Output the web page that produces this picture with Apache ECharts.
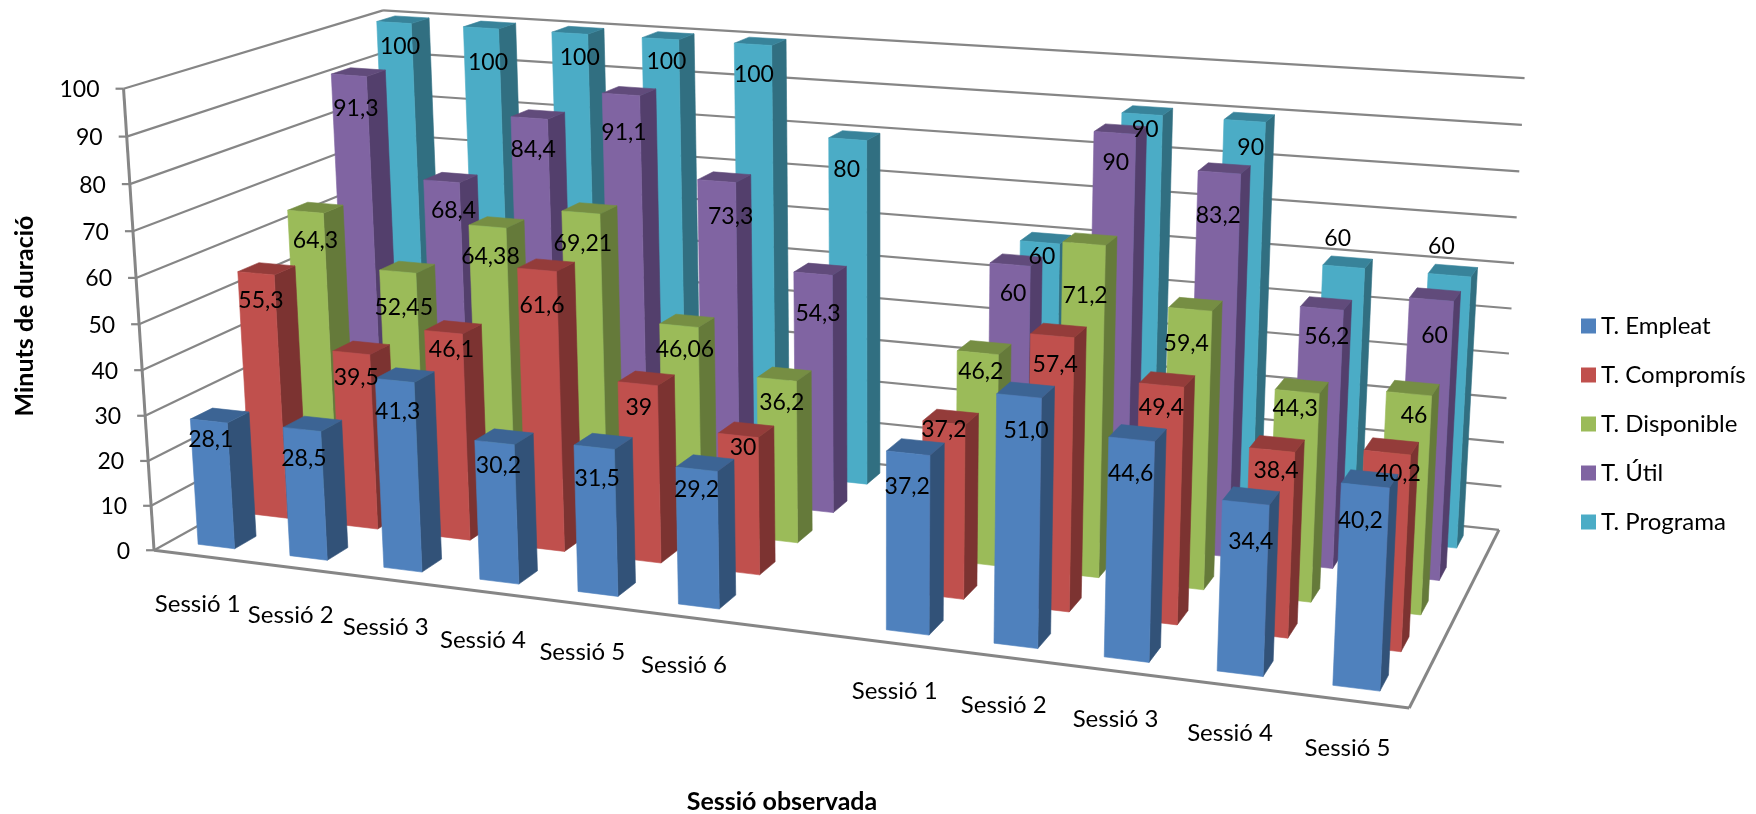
<!DOCTYPE html>
<html>
<head>
<meta charset="utf-8">
<style>html,body{margin:0;padding:0;background:#fff}#chart{width:1756px;height:814px}</style>
<script src="https://cdn.jsdelivr.net/npm/echarts@6/dist/echarts.min.js"></script>
</head>
<body>
<div id="chart"></div>
<script>
// Categories: two blocks of sessions separated by an empty slot.
const categories = ['Sessió 1','Sessió 2','Sessió 3','Sessió 4','Sessió 5','Sessió 6','','Sessió 1','Sessió 2','Sessió 3','Sessió 4','Sessió 5'];
const axisTicks = [0,10,20,30,40,50,60,70,80,90,100];

// Minutes per session, one list per measure.
const empleat    = [28.1,28.5,41.3,30.2,31.5,29.2,null,37.2,51.0,44.6,34.4,40.2];
const compromis  = [55.3,39.5,46.1,61.6,39,30,null,37.2,57.4,49.4,38.4,40.2];
const disponible = [64.3,52.45,64.38,69.21,46.06,36.2,null,46.2,71.2,59.4,44.3,46];
const util       = [91.3,68.4,84.4,91.1,73.3,54.3,null,60,90,83.2,56.2,60];
const programa   = [100,100,100,100,100,80,null,60,90,90,60,60];

// Front to back: name, values, decimals forced on the label, front/side/top shades.
const rows = [
  {name:'T. Empleat',    values:empleat,    fixed:1,    front:'#4F81BD', side:'#325278', top:'#3C6494'},
  {name:'T. Compromís',  values:compromis,  fixed:null, front:'#C0504D', side:'#7C3331', top:'#943C3A'},
  {name:'T. Disponible', values:disponible, fixed:null, front:'#9BBB59', side:'#657A3A', top:'#768E43'},
  {name:'T. Útil',       values:util,       fixed:null, front:'#8064A2', side:'#533F6C', top:'#614B7B'},
  {name:'T. Programa',   values:programa,   fixed:null, front:'#4BACC6', side:'#316F81', top:'#38839A'}
];

// Offset of every value label from the top of its bar's front face.
const labelShift = [
  [[2,19],[2,29],[3,31],[4,23],[3,31],[0,20],null,[-1,33],[7,35],[-1,34],[5,39],[-5,35]],
  [[5,27],[5,25],[8,17],[5,36],[1,24],[5,12],null,[0,7],[3,29],[0,22],[4,21],[11,21]],
  [[10,29],[6,36],[3,30],[2,31],[6,24],[5,23],null,[3,19],[1,52],[-4,34],[-2,17],[5,22]],
  [[7,33],[12,29],[4,32],[3,38],[14,35],[5,40],null,[3,29],[1,30],[-1,43],[5,28],[3,36]],
  [[6,24],[7,35],[10,24],[6,23],[1,30],[-1,30],null,[2,14],[3,15],[6,27],[-6,-28],[-8,-29]]
];

const BAR_SHARE = 0.4;
const FONT = 'Lato, "Noto Sans", sans-serif';
const NUM_FONT = '23px ' + FONT;
const CAT_FONT = '24px ' + FONT;
const LINE = '#868686';

// Corners of the plot box: [across, depth, height] -> screen position.
const boxCorners = [
  [0,0,0, 153,549], [1,0,0,1412,707], [1,1,0,1497,530], [0,1,0,401,415],
  [0,0,1, 124,86],  [1,0,1,1433,187], [1,1,1,1526,74],  [0,1,1,383,12]
];

// Least-squares fit of the perspective camera through those corners.
function solve(A, b) {
  const n = b.length, M = A.map((r, i) => r.concat(b[i]));
  for (let c = 0; c < n; c++) {
    let p = c;
    for (let r = c + 1; r < n; r++) if (Math.abs(M[r][c]) > Math.abs(M[p][c])) p = r;
    [M[c], M[p]] = [M[p], M[c]];
    for (let r = 0; r < n; r++) {
      if (r === c) continue;
      const f = M[r][c] / M[c][c];
      for (let k = c; k <= n; k++) M[r][k] -= f * M[c][k];
    }
  }
  return M.map((r, i) => r[n] / r[i]);
}
function fitCamera(points) {
  const eqs = [], rhs = [];
  points.forEach(([u, v, w, x, y]) => {
    const sx = x / 1000, sy = y / 1000;
    eqs.push([u, v, w, 1, 0, 0, 0, 0, -sx * u, -sx * v, -sx * w]); rhs.push(sx);
    eqs.push([0, 0, 0, 0, u, v, w, 1, -sy * u, -sy * v, -sy * w]); rhs.push(sy);
  });
  const AtA = Array.from({length: 11}, (_, i) => Array.from({length: 11}, (_, j) =>
    eqs.reduce((s, e) => s + e[i] * e[j], 0)));
  const Atb = Array.from({length: 11}, (_, i) => eqs.reduce((s, e, k) => s + e[i] * rhs[k], 0));
  return solve(AtA, Atb);
}
const cam = fitCamera(boxCorners);
function project(u, v, w) {
  const d = cam[8] * u + cam[9] * v + cam[10] * w + 1;
  return [1000 * (cam[0] * u + cam[1] * v + cam[2] * w + cam[3]) / d,
          1000 * (cam[4] * u + cam[5] * v + cam[6] * w + cam[7]) / d];
}

// The hidden cartesian grid covers the canvas, so its scales give across and height directly.
const acrossOf = (api, idx) => api.coord([idx, 0])[0] / api.getWidth();
const heightOf = (api, val) => 1 - api.coord([0, val])[1] / api.getHeight();

function polygon(points, fill) {
  return {type: 'polygon', shape: {points}, style: {fill, stroke: fill, lineWidth: 0.6}};
}
function segment(a, b, width) {
  return {type: 'line', shape: {x1: a[0], y1: a[1], x2: b[0], y2: b[1]},
          style: {stroke: LINE, lineWidth: width, fill: null}};
}
function textAt(x, y, text, font, align) {
  return {type: 'text', style: {x, y, text: String(text), font, fill: '#000',
          align: align || 'center', verticalAlign: 'middle'}};
}

function rowSpan(rowIdx) {
  const mid = (rowIdx + 0.5) / rows.length, half = BAR_SHARE / rows.length / 2;
  return [mid - half, mid + half];
}

function renderBar(rowIdx) {
  const palette = rows[rowIdx], [v0, v1] = rowSpan(rowIdx);
  return function (params, api) {
    const idx = api.value(0), h = heightOf(api, api.value(1));
    const uc = acrossOf(api, idx);
    const half = api.size([1, 0])[0] / api.getWidth() * BAR_SHARE / 2;
    const u0 = uc - half, u1 = uc + half;
    return {type: 'group', children: [
      polygon([project(u1,v0,0), project(u1,v1,0), project(u1,v1,h), project(u1,v0,h)], palette.side),
      polygon([project(u0,v0,h), project(u1,v0,h), project(u1,v1,h), project(u0,v1,h)], palette.top),
      polygon([project(u0,v0,0), project(u1,v0,0), project(u1,v0,h), project(u0,v0,h)], palette.front)
    ]};
  };
}

function renderLabel(rowIdx) {
  const row = rows[rowIdx], [v0] = rowSpan(rowIdx);
  return function (params, api) {
    const idx = api.value(0), val = api.value(1);
    const p = project(acrossOf(api, idx), v0, heightOf(api, val));
    const s = labelShift[rowIdx][idx];
    const str = (row.fixed != null ? val.toFixed(row.fixed) : String(val)).replace('.', ',');
    return textAt(p[0] + s[0], p[1] + s[1], str, NUM_FONT);
  };
}

function renderTick(params, api) {
  const t = api.value(1), h = heightOf(api, t);
  const a = project(0, 0, h), b = project(0, 1, h), c = project(1, 1, h);
  return {type: 'group', children: [
    segment(a, b, 2.2), segment(b, c, 2.2),
    segment([a[0] - 8, a[1]], a, 2.2),
    textAt(a[0] - 24, a[1] + 1, t, NUM_FONT, 'right')
  ]};
}

function renderFloor() {
  const fl = project(0,0,0), fr = project(1,0,0), br = project(1,1,0), tl = project(0,0,1);
  return {type: 'group', children: [segment(fl, fr, 3), segment(fr, br, 3), segment(fl, tl, 3)]};
}

function renderCategory(params, api) {
  const p = project(acrossOf(api, api.value(0)), 0, 0);
  return textAt(p[0] - 2, p[1] + 48, categories[api.value(0)], CAT_FONT);
}

const series = [
  {type: 'custom', name: 'floor', coordinateSystem: 'cartesian2d', z: 1, silent: true, clip: false,
   data: [[0, 0]], renderItem: renderFloor},
  {type: 'custom', name: 'ticks', coordinateSystem: 'cartesian2d', z: 1, silent: true, clip: false,
   data: axisTicks.map(t => [0, t]), encode: {x: 0, y: 1}, renderItem: renderTick},
  {type: 'custom', name: 'sessions', coordinateSystem: 'cartesian2d', z: 1, silent: true, clip: false,
   data: categories.map((c, i) => [i, 0]).filter(d => categories[d[0]]), encode: {x: 0, y: 1}, renderItem: renderCategory}
];
rows.forEach((row, r) => {
  const data = row.values.map((v, i) => [i, v]).filter(d => d[1] !== null);
  series.push({type: 'custom', name: row.name, coordinateSystem: 'cartesian2d', z: 10 - r, silent: true, clip: false,
    itemStyle: {color: row.front}, data, encode: {x: 0, y: 1}, renderItem: renderBar(r)});
  series.push({type: 'custom', name: row.name + ' valors', coordinateSystem: 'cartesian2d', z: 30, silent: true, clip: false,
    data, encode: {x: 0, y: 1}, renderItem: renderLabel(r)});
});

const chart = echarts.init(document.getElementById('chart'), null, {renderer: 'canvas'});
chart.setOption({
  animation: false,
  backgroundColor: '#fff',
  grid: {left: 0, right: 0, top: 0, bottom: 0},
  xAxis: {type: 'category', data: categories, show: false},
  yAxis: {type: 'value', min: 0, max: 100, interval: 10, show: false},
  legend: {
    data: rows.map(r => r.name), orient: 'vertical', left: 1576, top: 309,
    icon: 'rect', itemWidth: 15, itemHeight: 15, itemGap: 25,
    textStyle: {fontFamily: FONT, fontSize: 24, color: '#000'}, selectedMode: false
  },
  graphic: [
    {type: 'text', x: 25, y: 316, rotation: Math.PI / 2, z: 40,
     style: {text: 'Minuts de duració', font: 'bold 25px ' + FONT, fill: '#000', align: 'center', verticalAlign: 'middle'}},
    {type: 'text', x: 782, y: 802, z: 40,
     style: {text: 'Sessió observada', font: 'bold 25px ' + FONT, fill: '#000', align: 'center', verticalAlign: 'middle'}}
  ],
  series
});
</script>
</body>
</html>
